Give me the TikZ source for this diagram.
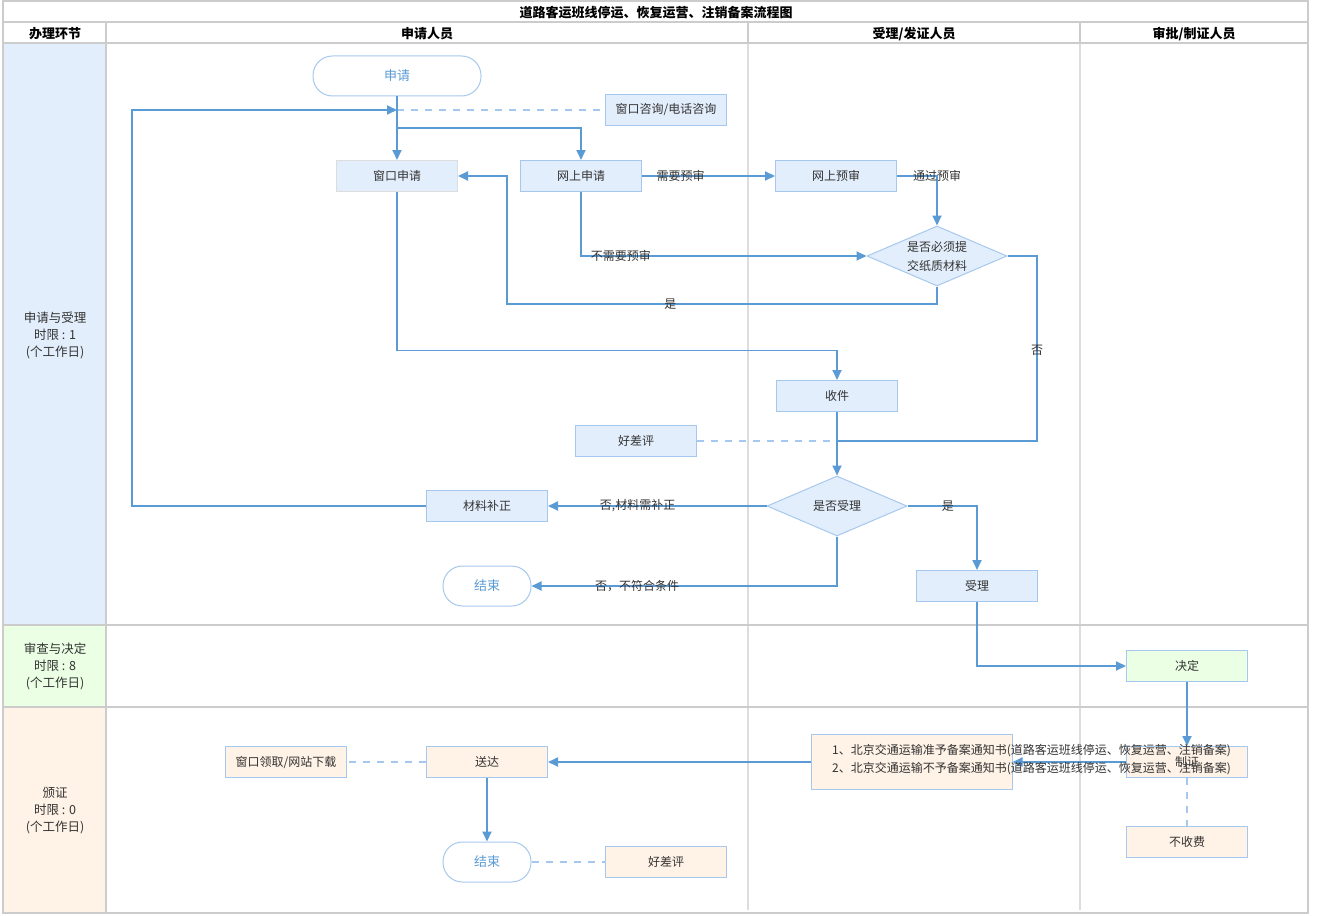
\documentclass[tikz,border=0pt]{standalone}
\usepackage{fontspec}
\setmainfont{Noto Sans CJK SC}
\usetikzlibrary{arrows.meta,shapes.geometric,calc}
\definecolor{linec}{HTML}{5B9BD5}
\definecolor{bordc}{HTML}{A6C8EE}
\definecolor{fillb}{HTML}{E3EEFC}
\definecolor{fillg}{HTML}{EBFFE4}
\definecolor{fillp}{HTML}{FFF2E6}
\definecolor{dashc}{HTML}{A6C8EE}
\definecolor{textc}{HTML}{333333}
\definecolor{gridc}{HTML}{CCCCCC}
\definecolor{lanec}{HTML}{DDDDDD}
\definecolor{termt}{HTML}{5B9BD5}
\begin{document}
\begin{tikzpicture}[x=1pt,y=-1pt,
  every node/.style={font=\fontsize{12}{17}\selectfont, text=textc},
  box/.style={draw=bordc, line width=1pt, minimum width=121pt, minimum height=31pt, inner sep=0pt},
  bbox/.style={box, fill=fillb},
  gbox/.style={box, fill=fillg},
  pbox/.style={box, fill=fillp},
  term/.style={draw=bordc, line width=1pt, fill=white, rounded corners=19.5pt, minimum height=40pt, inner sep=0pt, text=termt, font=\fontsize{13}{15}\selectfont},
  dia/.style={diamond, draw=bordc, line width=1pt, fill=fillb, minimum width=140pt, minimum height=60pt, inner sep=0pt},
  arr/.style={draw=linec, line width=1.8pt, -{Triangle[length=10pt,width=9pt]}},
  ln/.style={draw=linec, line width=1.8pt},
  dsh/.style={draw=dashc, line width=1.8pt, dash pattern=on 7pt off 7pt},
  lbl/.style={inner sep=1pt},
  hdr/.style={font=\bfseries\fontsize{13}{15}\selectfont, text=black},
  side/.style={align=center, font=\fontsize{12.5}{17}\selectfont},
]
\useasboundingbox (0,0) rectangle (1329,915);
% left column fills
\fill[fillb] (4,43) rectangle (106,625);
\fill[fillg] (4,625) rectangle (106,707);
\fill[fillp] (4,707) rectangle (106,913);
% lane lines
\draw[lanec, line width=1.5pt] (748,43) -- (748,910);
\draw[lanec, line width=1.5pt] (1080,43) -- (1080,910);
% grid
\draw[gridc, line width=2pt] (3,1) rectangle (1308,913);
\draw[gridc, line width=2pt] (3,22) -- (1308,22);
\draw[gridc, line width=2pt] (3,43) -- (1308,43);
\draw[gridc, line width=2pt] (3,625) -- (1308,625);
\draw[gridc, line width=2pt] (3,707) -- (1308,707);
\draw[gridc, line width=2pt] (106,22) -- (106,913);
\draw[gridc, line width=2pt] (748,22) -- (748,43);
\draw[gridc, line width=2pt] (1080,22) -- (1080,43);
% headers
\node[hdr] (title) at (656,13) {道路客运班线停运、恢复运营、注销备案流程图};
\node[hdr] (h0) at (55,34) {办理环节};
\node[hdr] (h1) at (427,34) {申请人员};
\node[hdr] (h2) at (914,34) {受理/发证人员};
\node[hdr] (h3) at (1194,34) {审批/制证人员};
\node[side] (s1) at (55,335) {申请与受理\\时限 : 1\\(个工作日)};
\node[side] (s2) at (55,666) {审查与决定\\时限 : 8\\(个工作日)};
\node[side] (s3) at (55,811) {颁证\\时限 : 0\\(个工作日)};

% nodes
\node[term, minimum width=168pt] (sq) at (397,76) {申请};
\node[bbox] (zx) at (666,110) {窗口咨询/电话咨询};
\node[bbox, draw=lanec] (ck) at (397,176) {窗口申请};
\node[bbox] (ws) at (581,176) {网上申请};
\node[bbox] (ys) at (836,176) {网上预审};
\node[dia, label={[align=center, font=\fontsize{12}{19}\selectfont, text=textc]center:是否必须提\\交纸质材料}] (d1) at (937,256) {};
\node[bbox] (sj) at (837,396) {收件};
\node[bbox] (hp1) at (636,441) {好差评};
\node[dia, label={[text=textc]center:是否受理}] (d2) at (837,506) {};
\node[bbox] (bz) at (487,506) {材料补正};
\node[bbox] (sl) at (977,586) {受理};
\node[term, minimum width=88pt] (js1) at (487,586) {结束};
\node[gbox] (jd) at (1187,666) {决定};
\node[pbox] (zz) at (1187,762) {制证};
\node[pbox] (bsf) at (1187,842) {不收费};
\node[pbox, minimum width=201pt, minimum height=55pt] (tz) at (911.5,762) {};
\node[pbox] (sd) at (487,762) {送达};
\node[pbox] (lq) at (286,762) {窗口领取/网站下载};
\node[term, minimum width=88pt] (js2) at (487,862) {结束};
\node[pbox] (hp2) at (666,862) {好差评};

% coordinates
\coordinate (j1) at (397,110);
\coordinate (lp) at (132,110);
\coordinate (br) at (397,128);
\coordinate (c1) at (507,304);
\coordinate (c2) at (1037,441);
\coordinate (c3) at (837,441);

% connectors
\draw[dsh] (j1) -- (zx.west);
\draw[arr] (sq.south) -- (ck.north);
\draw[arr] (br) -| (ws.north);
\draw[arr] (bz.west) -| (lp) -- (j1);
\draw[arr] (ws.east) -- node[lbl, pos=0.29]{需要预审} (ys.west);
\draw[arr] (ys.east) -| node[lbl, pos=0.5]{通过预审} (d1.north);
\draw[arr] (ws.south) |- node[lbl, pos=0.57]{不需要预审} (d1.west);
\draw[arr] (d1.south) |- node[lbl, pos=0.81]{是} (c1) |- (ck.east);
\draw[ln] (d1.east) -| node[lbl, pos=0.755]{否} (c2) -- (c3);
\draw[arr] (ck.south) -- ++(0,158.5) -| (sj.north);
\draw[dsh] (hp1.east) -- (c3);
\draw[arr] (sj.south) -- (d2.north);
\draw[arr] (d2.west) -- node[lbl, pos=0.59]{否,材料需补正} (bz.east);
\draw[arr] (d2.east) -| node[lbl, pos=0.29]{是} (sl.north);
\draw[arr] (d2.south) |- node[lbl, pos=0.827]{否，不符合条件} (js1.east);
\draw[arr] (sl.south) |- (jd.west);
\draw[arr] (jd.south) -- (zz.north);
\draw[dsh] (zz.south) -- (bsf.north);
\draw[arr] (zz.west) -- (tz.east);
\node[anchor=west, align=left, font=\fontsize{12}{18}\selectfont, inner sep=0pt] (tzt) at (832,760) {1、北京交通运输准予备案通知书(道路客运班线停运、恢复运营、注销备案)\\2、北京交通运输不予备案通知书(道路客运班线停运、恢复运营、注销备案)};
\draw[arr] (tz.west) -- (sd.east);
\draw[dsh] (sd.west) -- (lq.east);
\draw[arr] (sd.south) -- (js2.north);
\draw[dsh] (js2.east) -- (hp2.west);
\end{tikzpicture}
\end{document}
